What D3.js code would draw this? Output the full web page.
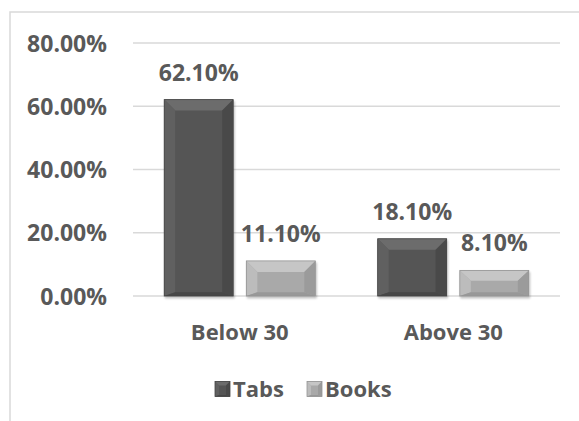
<!DOCTYPE html>
<html>
<head>
<meta charset="utf-8">
<script src="https://cdn.jsdelivr.net/npm/d3@7/dist/d3.min.js"></script>
<style>
  html, body { margin: 0; padding: 0; background: #fff; }
  svg { display: block; }
  text { font-family: "Open Sans", sans-serif; font-weight: 700; fill: #595959; }
</style>
</head>
<body>
<svg id="chart" width="579" height="421"></svg>
<script>
// Share of readers by age group
const categories = ["Below 30", "Above 30"];
const seriesNames = ["Tabs", "Books"];
const tabsValues = [0.621, 0.181];
const booksValues = [0.111, 0.081];
const yTicks = [0, 0.2, 0.4, 0.6, 0.8];

const FONT = "'Open Sans', sans-serif";
const svg = d3.select("#chart");

// bevel colour sets per series: face, top, left, right, bottom
const palette = {
  Tabs:  { face: "#555555", top: "#6c6c6c", left: "#606060", right: "#4a4a4a", bottom: "#474747", edge: "#444444" },
  Books: { face: "#a9a9a9", top: "#c6c6c6", left: "#bcbcbc", right: "#9b9b9b", bottom: "#989898", edge: "#959595" }
};

const rows = categories.map((c, i) => ({
  category: c,
  values: [
    { series: "Tabs", value: tabsValues[i] },
    { series: "Books", value: booksValues[i] }
  ]
}));

// chart frame
svg.append("path")
  .attr("d", "M10,421 L10,12 L579,12")
  .attr("fill", "none")
  .attr("stroke", "#d9d9d9")
  .attr("stroke-width", 1.5);

const y = d3.scaleLinear().domain([0, 0.8]).range([296, 43]);
const x0 = d3.scaleBand().domain(categories).range([133, 560]).padding(0);
const x1 = d3.scaleBand().domain(seriesNames).range([0, x0.bandwidth()])
  .paddingInner(0.16).paddingOuter(0.38);

// gridlines
svg.append("g")
  .selectAll("line")
  .data(yTicks)
  .join("line")
  .attr("x1", 133).attr("x2", 560)
  .attr("y1", d => y(d)).attr("y2", d => y(d))
  .attr("stroke", "#d9d9d9")
  .attr("stroke-width", 1.5);

// y axis labels
const yAxis = d3.axisLeft(y).tickValues(yTicks).tickSize(0).tickPadding(0)
  .tickFormat(d => (d * 100).toFixed(2) + "%");
svg.append("g")
  .attr("transform", "translate(107,0)")
  .call(yAxis)
  .call(g => g.select(".domain").remove())
  .call(g => g.selectAll("text")
    .attr("font-size", 23)
    .attr("fill", "#595959")
    .attr("font-family", FONT)
    .attr("font-weight", 700)
    .attr("dy", "0.35em"));

// soft drop shadow under bars
const defs = svg.append("defs");
const shadow = defs.append("filter").attr("id", "barShadow")
  .attr("x", "-10%").attr("y", "-10%").attr("width", "130%").attr("height", "130%");
shadow.append("feGaussianBlur").attr("in", "SourceAlpha").attr("stdDeviation", 1.2);
shadow.append("feOffset").attr("dx", 0.5).attr("dy", 1.5).attr("result", "off");
shadow.append("feComponentTransfer").append("feFuncA").attr("type", "linear").attr("slope", 0.25);
const merge = shadow.append("feMerge");
merge.append("feMergeNode");
merge.append("feMergeNode").attr("in", "SourceGraphic");

// draws one bevelled bar; b is the bevel depth
function bevelBar(g, x, yTop, w, h, col, b, useShadow) {
  const bt = Math.min(b, h / 2.5), bs = Math.min(b, w / 3), bb = Math.min(b * 0.35, h / 6);
  const x2 = x + w, y2 = yTop + h;
  const grp = g.append("g");
  if (useShadow) grp.attr("filter", "url(#barShadow)");
  grp.append("rect").attr("x", x).attr("y", yTop).attr("width", w).attr("height", h).attr("fill", col.face);
  const poly = (pts, fill) => grp.append("polygon")
    .attr("points", pts.map(p => p.join(",")).join(" ")).attr("fill", fill);
  poly([[x, yTop], [x2, yTop], [x2 - bs, yTop + bt], [x + bs, yTop + bt]], col.top);
  poly([[x, yTop], [x + bs, yTop + bt], [x + bs, y2 - bb], [x, y2]], col.left);
  poly([[x2, yTop], [x2, y2], [x2 - bs, y2 - bb], [x2 - bs, yTop + bt]], col.right);
  poly([[x, y2], [x + bs, y2 - bb], [x2 - bs, y2 - bb], [x2, y2]], col.bottom);
  grp.append("rect").attr("x", x).attr("y", yTop).attr("width", w).attr("height", h)
    .attr("fill", "none").attr("stroke", col.edge).attr("stroke-width", 0.8);
}

const groups = svg.append("g").selectAll("g")
  .data(rows)
  .join("g")
  .attr("transform", d => `translate(${x0(d.category)},0)`);

groups.each(function (d) {
  const g = d3.select(this);
  d.values.forEach(v => {
    const bx = x1(v.series), bw = x1.bandwidth();
    const top = y(v.value), h = y(0) - top;
    bevelBar(g, bx, top, bw, h, palette[v.series], 11, true);
    g.append("text")
      .attr("x", bx + bw / 2)
      .attr("y", top - 27)
      .attr("dy", "0.35em")
      .attr("text-anchor", "middle")
      .attr("font-size", 23)
      .text((v.value * 100).toFixed(2) + "%");
  });
});

// category labels
const xAxis = d3.axisBottom(x0).tickSize(0).tickPadding(0);
svg.append("g")
  .attr("transform", "translate(0,332)")
  .call(xAxis)
  .call(g => g.select(".domain").remove())
  .call(g => g.selectAll("text")
    .attr("font-size", 22)
    .attr("fill", "#595959")
    .attr("font-family", FONT)
    .attr("font-weight", 700)
    .attr("dy", "0.35em"));

// legend
const legendItems = [
  { name: "Tabs", x: 215 },
  { name: "Books", x: 307 }
];
const legend = svg.append("g").selectAll("g")
  .data(legendItems)
  .join("g")
  .attr("transform", d => `translate(${d.x},389)`);
legend.each(function (d) {
  bevelBar(d3.select(this), 0, -7.5, 15, 15, palette[d.name], 4, false);
});
legend.append("text")
  .attr("x", 18)
  .attr("dy", "0.35em")
  .attr("font-size", 22)
  .text(d => d.name);
</script>
</body>
</html>
